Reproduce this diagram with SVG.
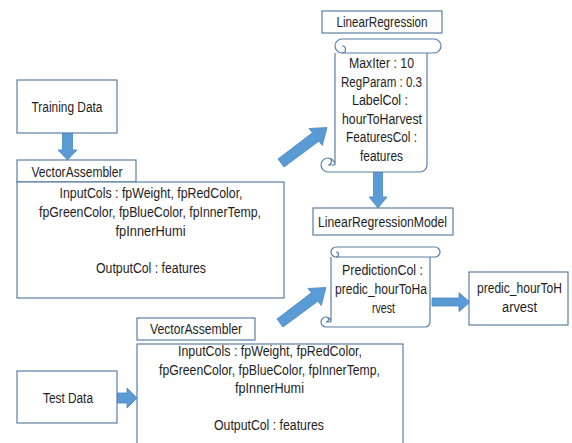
<svg xmlns="http://www.w3.org/2000/svg" width="572" height="443" viewBox="0 0 572 443">
<style>
.box{fill:#fff;stroke:#5a7fa6;stroke-width:1.2}
.ln{fill:none;stroke:#5a7fa6;stroke-width:1.2}
.arr{fill:#5b9bd5;stroke:#4a86c0;stroke-width:0.8}
text{font-family:"Liberation Sans",Arial,sans-serif;font-size:15.5px;fill:#1e1e1e;text-anchor:middle}
</style>
<defs>
<polygon id="diag" points="278,159 312.4,132.8 309,128.5 327,127.5 322.3,145.5 318.9,141.2 284,167"/>
</defs>
<rect width="572" height="443" fill="#fff"/>
<g id="connectors">
<polygon class="arr" points="62.5,133 72.5,133 72.5,150 77,150 67.5,160 58,150 62.5,150"/>
<use href="#diag" class="arr"/>
<polygon class="arr" points="373.5,172 382.5,172 382.5,197 387,197 378,208 369,197 373.5,197"/>
<polygon class="arr" points="432,298 459,298 459,292.7 470,302 459,311.7 459,306 432,306"/>
<use href="#diag" class="arr" transform="translate(-1,160)"/>
<polygon class="arr" points="117,393 127,393 127,388 137,398 127,408 127,403 117,403"/>
</g>
<g id="training-data">
<rect class="box" x="17" y="80" width="100" height="53"/>
<text x="67" y="112" textLength="71" lengthAdjust="spacingAndGlyphs">Training Data</text>
</g>
<g id="vector-assembler-1">
<rect class="box" x="17" y="160" width="119" height="22"/>
<text x="77" y="177" textLength="91" lengthAdjust="spacingAndGlyphs">VectorAssembler</text>
<rect class="box" x="17" y="182" width="267" height="116"/>
<text x="151" y="198" textLength="183" lengthAdjust="spacingAndGlyphs">InputCols : fpWeight, fpRedColor,</text>
<text x="150" y="217" textLength="222" lengthAdjust="spacingAndGlyphs">fpGreenColor, fpBlueColor, fpInnerTemp,</text>
<text x="150.5" y="236" textLength="70" lengthAdjust="spacingAndGlyphs">fpInnerHumi</text>
<text x="151" y="273" textLength="110" lengthAdjust="spacingAndGlyphs">OutputCol : features</text>
</g>
<g id="linear-regression">
<rect class="box" x="322" y="11" width="120" height="22"/>
<text x="382" y="27" textLength="91" lengthAdjust="spacingAndGlyphs">LinearRegression</text>
<rect x="335" y="46" width="92" height="126" fill="#fff"/>
<path class="box" d="M342,39 L434,39 A7,7 0 0 1 434,53 L342,53 A7,7 0 0 1 342,39 Z"/>
<path class="ln" d="M342,46 A3.5,3.5 0 0 1 342,53 M335,53 L335,165 M328,172 L420,172 A7,7 0 0 0 427,165 L427,53 M328,172 A7,7 0 0 1 328,158 A7,7 0 0 1 335,165 M328,158 A3.5,3.5 0 0 1 328,165 L335,165"/>
<text x="381.5" y="68" textLength="65" lengthAdjust="spacingAndGlyphs">MaxIter : 10</text>
<text x="381.5" y="86.6" textLength="81" lengthAdjust="spacingAndGlyphs">RegParam : 0.3</text>
<text x="380" y="105.2" textLength="56" lengthAdjust="spacingAndGlyphs">LabelCol :</text>
<text x="382" y="123.8" textLength="80" lengthAdjust="spacingAndGlyphs">hourToHarvest</text>
<text x="381.5" y="142.4" textLength="71" lengthAdjust="spacingAndGlyphs">FeaturesCol :</text>
<text x="381.5" y="161" textLength="43" lengthAdjust="spacingAndGlyphs">features</text>
</g>
<g id="linear-regression-model">
<rect class="box" x="313" y="208" width="140" height="27"/>
<text x="382.5" y="226.5" textLength="129" lengthAdjust="spacingAndGlyphs">LinearRegressionModel</text>
<rect x="331" y="252" width="99" height="75" fill="#fff"/>
<path class="box" d="M336,247 L435,247 A5,5 0 0 1 435,257 L336,257 A5,5 0 0 1 336,247 Z"/>
<path class="ln" d="M336,252 A2.5,2.5 0 0 1 336,257 M331,257 L331,322 M326,327 L425,327 A5,5 0 0 0 430,322 L430,257 M326,327 A5,5 0 0 1 326,317 A5,5 0 0 1 331,322 M326,317 A2.5,2.5 0 0 1 326,322 L331,322"/>
<text x="382.5" y="275" textLength="81" lengthAdjust="spacingAndGlyphs">PredictionCol :</text>
<text x="381" y="294" textLength="92" lengthAdjust="spacingAndGlyphs">predic_hourToHa</text>
<text x="383.5" y="313" textLength="23" lengthAdjust="spacingAndGlyphs">rvest</text>
</g>
<g id="prediction-output">
<rect class="box" x="469" y="272" width="99" height="53"/>
<text x="519.5" y="293" textLength="85" lengthAdjust="spacingAndGlyphs">predic_hourToH</text>
<text x="519.5" y="312" textLength="35" lengthAdjust="spacingAndGlyphs">arvest</text>
</g>
<g id="vector-assembler-2">
<rect class="box" x="137" y="318" width="118" height="22"/>
<text x="196" y="334" textLength="92" lengthAdjust="spacingAndGlyphs">VectorAssembler</text>
<rect class="box" x="137" y="344" width="266" height="110"/>
<text x="270" y="356" textLength="184" lengthAdjust="spacingAndGlyphs">InputCols : fpWeight, fpRedColor,</text>
<text x="269.5" y="374.5" textLength="221" lengthAdjust="spacingAndGlyphs">fpGreenColor, fpBlueColor, fpInnerTemp,</text>
<text x="269.5" y="393" textLength="69" lengthAdjust="spacingAndGlyphs">fpInnerHumi</text>
<text x="269" y="430" textLength="110" lengthAdjust="spacingAndGlyphs">OutputCol : features</text>
</g>
<g id="test-data">
<rect class="box" x="17" y="371" width="100" height="52"/>
<text x="68" y="403" textLength="50" lengthAdjust="spacingAndGlyphs">Test Data</text>
</g>
</svg>
